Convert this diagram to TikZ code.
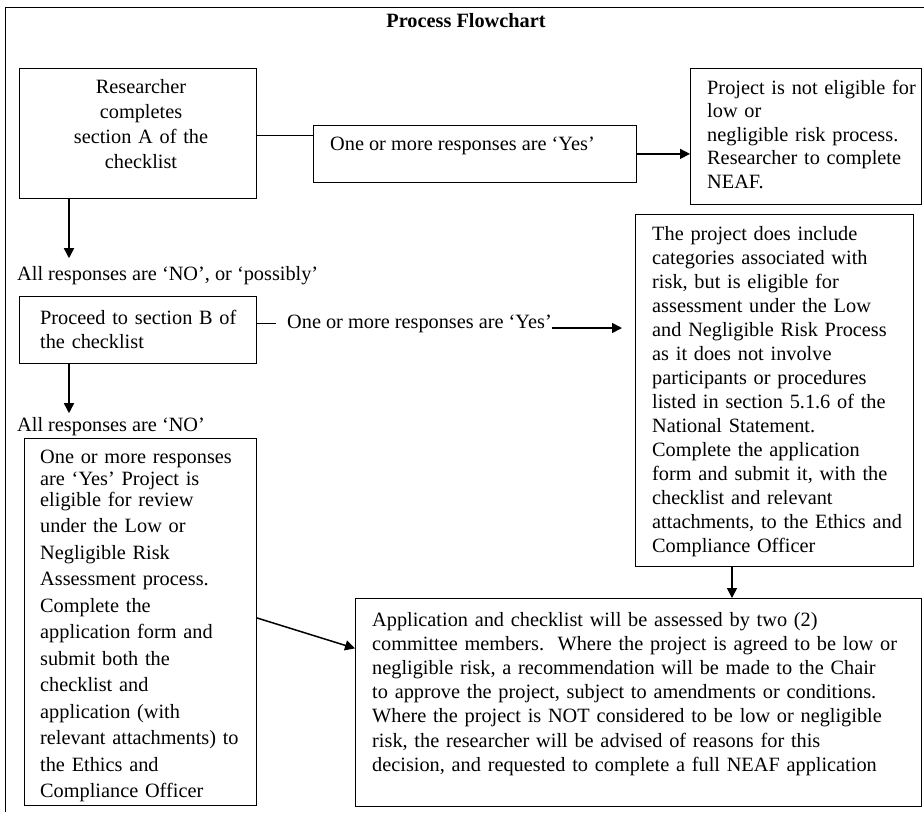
\documentclass[tikz,border=0pt]{standalone}
\usepackage{fontspec}
\setmainfont{Liberation Serif}
\usetikzlibrary{arrows.meta}

\begin{document}
\begin{tikzpicture}[x=1pt, y=-1pt,
  box/.style={draw, line width=0.8pt, anchor=north west, inner sep=0pt},
  txt/.style={inner sep=0pt, anchor=base west, align=left, font=\fontsize{20.3}{24}\selectfont},
  arr/.style={line width=1.5pt, -{Triangle[length=10pt, width=10pt]}}]
\useasboundingbox (0,0) rectangle (924,812);

% Outer frame (it runs off the page at the right and the bottom)
\draw[line width=0.8pt] (5,812) -- (5,7) -- (924,7);
\node[txt, anchor=base, font=\fontsize{20.3}{24}\selectfont\bfseries] (title) at (466,27) {Process Flowchart};

% Draw the boxes
\node[box, minimum width=237, minimum height=130] (secA) at (19,68) {};
\node[box, minimum width=323, minimum height=57] (yesA) at (313,125) {};
\node[box, minimum width=231, minimum height=136] (ne) at (690,68) {};
\node[box, minimum width=237, minimum height=67] (secB) at (19,296) {};
\node[box, minimum width=278, minimum height=352] (desc) at (635,214) {};
\node[box, minimum width=232, minimum height=367] (secC) at (24,438) {};
\node[box, minimum width=566, minimum height=208] (final) at (355,598) {};

% Insert the texts
\node[txt, anchor=base, align=center, text width=200, font=\fontsize{20.3}{25}\selectfont] (secAtxt) at (141,93) {Researcher\\completes\\section A of the\\checklist};
\node[txt] (yesAtxt) at (330,150) {One or more responses are `Yes'};
\node[txt, text width=225, font=\fontsize{20.3}{23.6}\selectfont] (netxt) at (707,94) {Project is not eligible for\\low or\\negligible risk process.\\Researcher to complete\\NEAF.};
\node[txt] (noA) at (17,280) {All responses are `NO', or `possibly'};
\node[txt, text width=225] (secBtxt) at (40,324) {Proceed to section B of\\the checklist};
\node[txt] (yesB) at (287,328) {One or more responses are `Yes'};
\node[txt] (noB) at (17,431) {All responses are `NO'};
\node[txt, text width=260] (desctxt) at (652,240) {The project does include\\categories associated with\\risk, but is eligible for\\assessment under the Low\\and Negligible Risk Process\\as it does not involve\\participants or procedures\\listed in section 5.1.6 of the\\National Statement.\\Complete the application\\form and submit it, with the\\checklist and relevant\\attachments, to the Ethics and\\Compliance Officer};
\node[txt, text width=212, font=\fontsize{20.3}{26.5}\selectfont] (secCtxt) at (40,463) {One or more responses\\[-4.5pt]are `Yes' Project is\\[-5.5pt]eligible for review\\under the Low or\\Negligible Risk\\Assessment process.\\Complete the\\application form and\\submit both the\\checklist and\\application (with\\relevant attachments) to\\the Ethics and\\Compliance Officer};
\node[txt, text width=545, font=\fontsize{20.3}{24.2}\selectfont] (finaltxt) at (372,626) {Application and checklist will be assessed by two (2)\\committee members.\ \ Where the project is agreed to be low or\\negligible risk, a recommendation will be made to the Chair\\to approve the project, subject to amendments or conditions.\\Where the project is NOT considered to be low or negligible\\risk, the researcher will be advised of reasons for this\\decision, and requested to complete a full NEAF application};

% Connectors
\draw[line width=0.8pt] ([yshift=-10pt]yesA.north west) -- ([yshift=-10pt]yesA.north west -| secA.east);
\draw[arr] (yesA.east) -- (yesA.east -| ne.west);
\draw[arr, shorten >=7.5pt] ([xshift=50pt]secA.south west) -- ([xshift=50pt]secA.south west |- noA.north);
\draw[line width=0.8pt] (secB.east |- yesB.west) -- ([xshift=-11pt]yesB.west);
\draw[arr, shorten >=13pt] (yesB.base east) -- (yesB.base east -| desc.west);
\draw[arr, shorten >=3.5pt] ([xshift=50pt]secB.south west) -- ([xshift=50pt]secB.south west |- noB.north);
\draw[arr] ([xshift=97pt]desc.south west) -- ([xshift=97pt]desc.south west |- final.north);
\draw[arr] ([yshift=4pt]secC.east) -- ([yshift=54pt]final.west);
\end{tikzpicture}
\end{document}
